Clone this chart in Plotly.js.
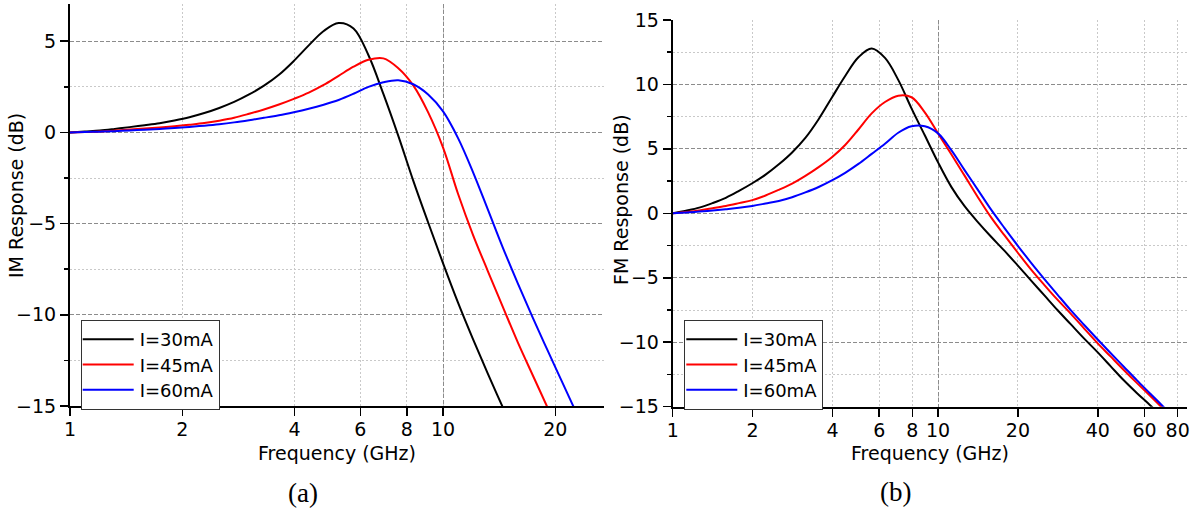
<!DOCTYPE html>
<html><head><meta charset="utf-8">
<script src="https://cdn.plot.ly/plotly-3.0.1.min.js"></script>
<style>html,body{margin:0;padding:0;background:#fff}#chart{width:1201px;height:510px}</style>
</head><body><div id="chart"></div>
<script>
// ---- (a) IM response: readings at frequencies (GHz) ----
const imFreq = [1, 1.096, 1.202, 1.318, 1.445, 1.585, 1.738, 1.905, 2.089, 2.291, 2.512, 2.754, 3.020, 3.311, 3.631, 3.981, 4.365, 4.786, 5.248, 5.754, 6.310, 6.918, 7.586, 8.318, 9.120, 10.0, 10.96, 12.02, 13.18, 14.45, 15.85, 17.38, 19.05, 20.89, 22.91, 25.12];
const im30 = [0, 0.05, 0.10, 0.19, 0.29, 0.39, 0.50, 0.65, 0.83, 1.06, 1.34, 1.67, 2.08, 2.56, 3.16, 3.92, 4.77, 5.56, 6.0, 5.7, 4.23, 2.11, -0.19, -2.64, -4.94, -7.18, -9.32, -11.32, -13.23, -15.06, -16.9];
const im45 = [0, 0.02, 0.05, 0.10, 0.16, 0.21, 0.27, 0.34, 0.42, 0.51, 0.64, 0.80, 1.02, 1.26, 1.53, 1.84, 2.18, 2.6, 3.1, 3.6, 3.98, 4.06, 3.52, 2.58, 1.1, -0.83, -3.35, -5.6, -7.6, -9.55, -11.5, -13.3, -15.08, -16.9];
const im60 = [0, 0.02, 0.04, 0.07, 0.11, 0.15, 0.19, 0.24, 0.30, 0.37, 0.45, 0.55, 0.67, 0.80, 0.94, 1.11, 1.30, 1.52, 1.78, 2.12, 2.5, 2.75, 2.86, 2.64, 2.08, 1.15, -0.3, -2.16, -4.22, -6.3, -8.26, -10.14, -11.94, -13.72, -15.5, -17.28];

// ---- (b) FM response: readings at frequencies (GHz) ----
const fmFreq = [1, 1.122, 1.259, 1.413, 1.585, 1.778, 1.995, 2.239, 2.512, 2.818, 3.162, 3.548, 3.981, 4.467, 5.012, 5.623, 6.310, 7.079, 7.943, 8.913, 10.0, 11.22, 12.59, 14.13, 15.85, 17.78, 19.95, 22.39, 25.12, 28.18, 31.62, 35.48, 39.81, 44.67, 50.12, 56.23, 63.10, 70.79, 79.43];
const fm30 = [0, 0.2, 0.44, 0.79, 1.2, 1.74, 2.33, 3.0, 3.8, 4.72, 5.85, 7.3, 8.98, 10.65, 12.1, 12.78, 12.05, 10.35, 8.14, 6.05, 3.95, 2.05, 0.55, -0.68, -1.82, -2.9, -4.04, -5.2, -6.35, -7.5, -8.6, -9.7, -10.75, -11.85, -12.95, -13.95, -14.9, -15.9];
const fm45 = [0, 0.1, 0.22, 0.39, 0.57, 0.79, 1.02, 1.38, 1.82, 2.3, 2.9, 3.58, 4.35, 5.3, 6.5, 7.75, 8.63, 9.12, 9.0, 7.83, 6.2, 4.58, 2.92, 1.25, -0.32, -1.7, -3.04, -4.35, -5.55, -6.7, -7.78, -8.92, -10.05, -11.1, -12.15, -13.17, -14.17, -15.19, -16.2];
const fm60 = [0, 0.06, 0.13, 0.22, 0.32, 0.43, 0.57, 0.76, 0.96, 1.25, 1.62, 2.04, 2.55, 3.14, 3.83, 4.61, 5.4, 6.25, 6.75, 6.75, 6.2, 4.9, 3.35, 1.82, 0.28, -1.13, -2.5, -3.82, -5.08, -6.3, -7.51, -8.64, -9.75, -10.84, -11.9, -12.96, -13.99, -15.02, -16.05];

const seriesNames = ['I=30mA', 'I=45mA', 'I=60mA'];
const seriesColors = ['#000000', '#ff0000', '#0000ff'];
const xTicksA = [1, 2, 4, 6, 8, 10, 20];
const xTicksB = [1, 2, 4, 6, 8, 10, 20, 40, 60, 80];
const decadeTicks = [10];

const W = 1201, H = 510;
const fx = v => v / W, fy = v => 1 - v / H;
const FONT = 'DejaVu Sans';
const SERIF = 'Liberation Serif';
const majorGrid = '#8c8c8c', minorGrid = '#c9c9c9';
const tickFont = {family: FONT, size: 19, color: '#000'};

const rangeA = [0, Math.log10(27)];
const rangeB = [0, 1.939];

function xAxis(domain, range, vals, anchor) {
  return {type: 'log', domain, range, tickvals: vals, ticktext: vals.map(String),
    ticks: 'outside', ticklen: 8, tickwidth: 1.5, tickcolor: '#000', ticklabelstandoff: -3,
    showline: true, linecolor: '#000', linewidth: 2,
    showgrid: true, gridcolor: minorGrid, griddash: '2px,2px', gridwidth: 1,
    zeroline: false, tickfont: tickFont, anchor, fixedrange: true};
}
function yAxis(domain, range, anchor) {
  return {domain, range, tick0: 0, dtick: 5,
    ticks: 'outside', ticklen: 8, tickwidth: 1.5, tickcolor: '#000',
    showline: true, linecolor: '#000', linewidth: 2,
    showgrid: true, gridcolor: majorGrid, griddash: '4px,2px', gridwidth: 1,
    zeroline: false, tickfont: tickFont, anchor, fixedrange: true,
    minor: {dtick: 2.5, ticks: 'outside', ticklen: 4, tickwidth: 1.5, tickcolor: '#000',
      showgrid: true, gridcolor: minorGrid, griddash: '2px,2px', gridwidth: 1}};
}
function decadeAxis(over, anchor, range) {
  return {overlaying: over, anchor, type: 'log', range, tickvals: decadeTicks,
    showticklabels: false, ticks: '', showline: false, zeroline: false,
    showgrid: true, gridcolor: majorGrid, griddash: '4px,2px', gridwidth: 1, fixedrange: true};
}

const traces = [];
const leftY = [im30, im45, im60];
const rightY = [fm30, fm45, fm60];
for (let i = 0; i < 3; i++) {
  traces.push({x: imFreq.slice(0, leftY[i].length), y: leftY[i], xaxis: 'x', yaxis: 'y', mode: 'lines', name: seriesNames[i],
    line: {color: seriesColors[i], width: 2, shape: 'spline', smoothing: 1}, legend: 'legend'});
}
for (let i = 0; i < 3; i++) {
  traces.push({x: fmFreq.slice(0, rightY[i].length), y: rightY[i], xaxis: 'x2', yaxis: 'y2', mode: 'lines', name: seriesNames[i],
    line: {color: seriesColors[i], width: 2, shape: 'spline', smoothing: 1}, legend: 'legend2'});
}
traces.push({x: [], y: [], xaxis: 'x3', yaxis: 'y', showlegend: false, hoverinfo: 'skip'});
traces.push({x: [], y: [], xaxis: 'x4', yaxis: 'y2', showlegend: false, hoverinfo: 'skip'});

function legendAt(xpx, ypx) {
  return {x: fx(xpx), y: fy(ypx), xanchor: 'left', yanchor: 'top', bordercolor: '#333', borderwidth: 1,
    bgcolor: '#fff', font: {family: FONT, size: 18, color: '#000'}, itemwidth: 48, tracegroupgap: 0};
}
function ann(text, xpx, ypx, opts) {
  return Object.assign({text, x: fx(xpx), y: fy(ypx), xref: 'paper', yref: 'paper', showarrow: false,
    xanchor: 'center', yanchor: 'middle', font: {family: FONT, size: 19, color: '#000'}}, opts || {});
}

const layout = {
  width: W, height: H, autosize: false,
  margin: {l: 0, r: 0, t: 0, b: 0, pad: 0},
  paper_bgcolor: '#fff', plot_bgcolor: '#fff',
  showlegend: true,
  xaxis: xAxis([fx(70), fx(604)], rangeA, xTicksA, 'y'),
  yaxis: yAxis([fy(406), fy(4)], [-15, 7.04], 'x'),
  xaxis2: xAxis([fx(672.7), fx(1187.2)], rangeB, xTicksB, 'y2'),
  yaxis2: yAxis([fy(406.7), fy(19.9)], [-15, 15], 'x2'),
  xaxis3: decadeAxis('x', 'y', rangeA),
  xaxis4: decadeAxis('x2', 'y2', rangeB),
  legend: legendAt(80.7, 320),
  legend2: legendAt(684.3, 320),
  annotations: [
    ann('IM Response (dB)', 16, 196, {textangle: -90}),
    ann('FM Response (dB)', 621, 200, {textangle: -90}),
    ann('Frequency (GHz)', 337, 453),
    ann('Frequency (GHz)', 930, 453),
    ann('(a)', 302.5, 492.5, {font: {family: SERIF, size: 27, color: '#000'}}),
    ann('(b)', 895.5, 491.5, {font: {family: SERIF, size: 27, color: '#000'}})
  ]
};

const ROW = 25.3;
Plotly.newPlot('chart', traces, layout, {staticPlot: true, displayModeBar: false}).then(function () {
  document.querySelectorAll('.legendlines path').forEach(function (p) { p.setAttribute('d', 'M1,0h51'); });
  ['legend', 'legend2'].forEach(function (id) {
    const g = document.querySelector('g.' + id);
    if (!g) return;
    const items = g.querySelectorAll('g.traces');
    let x0 = 0, y0 = 0;
    items.forEach(function (it, i) {
      const m = /translate\(\s*([-\d.e]+)[ ,]+([-\d.e]+)\s*\)/.exec(it.getAttribute('transform') || '');
      if (!m) return;
      if (i === 0) { x0 = +m[1]; y0 = +m[2]; }
      it.setAttribute('transform', 'translate(' + x0 + ',' + (y0 + i * ROW) + ')');
    });
    const bg = g.querySelector('rect.bg');
    if (bg && items.length) bg.setAttribute('height', 2 * y0 + (items.length - 1) * ROW);
  });
});
</script>
</body></html>
